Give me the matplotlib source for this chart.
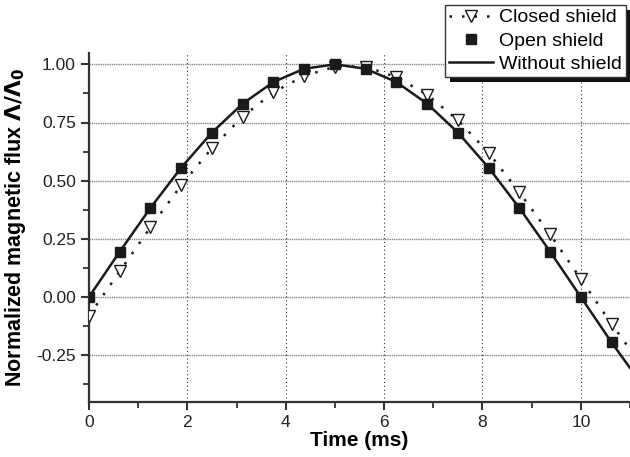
import matplotlib
matplotlib.use("Agg")
import matplotlib.pyplot as plt
from matplotlib.patches import Rectangle
from matplotlib.transforms import IdentityTransform

plt.rcParams["font.family"] = ["Liberation Sans", "DejaVu Sans"]

# sample times (ms)
t = [0, 0.625, 1.25, 1.875, 2.5, 3.125, 3.75, 4.375, 5.0, 5.625,
     6.25, 6.875, 7.5, 8.125, 8.75, 9.375, 10.0, 10.625]
closed = [-0.08, 0.11, 0.30, 0.48, 0.64, 0.775, 0.88, 0.95, 0.99, 0.99,
          0.945, 0.87, 0.76, 0.62, 0.45, 0.27, 0.077, -0.116]
opened = [0.0, 0.195, 0.383, 0.556, 0.707, 0.831, 0.924, 0.981, 1.0, 0.981,
          0.924, 0.831, 0.707, 0.556, 0.383, 0.195, 0.0, -0.195]
# line ends
t_line = t + [11.0]
closed_line = closed + [-0.225]
without = opened + [-0.305]

fig = plt.figure(figsize=(6.3, 4.57), dpi=100)
ax = fig.add_axes([89 / 630, 1 - 401.7 / 457, (630 - 89) / 630, (401.7 - 52.7) / 457])

ax.plot(t_line, without, "-", color="#1a1a1a", lw=1.8, zorder=3)
ax.plot(t_line, closed_line, color="#1a1a1a", lw=1.8, ls=(0, (1, 4)), zorder=3)
ax.plot(t, closed, "v", ls="none", ms=9, mfc="white", mec="#1a1a1a", mew=1.0, zorder=4)
ax.plot(t, opened, "s", ls="none", ms=7, mfc="#1a1a1a", mec="#1a1a1a", zorder=5)

ax.set_xlim(0, 11)
ax.set_ylim(-0.45, 1.05)
ax.set_xticks([0, 2, 4, 6, 8, 10])
ax.set_xticks([1, 3, 5, 7, 9, 11], minor=True)
ax.set_yticks([-0.25, 0.0, 0.25, 0.5, 0.75, 1.0])
ax.set_yticks([-0.375, -0.125, 0.125, 0.375, 0.625, 0.875], minor=True)
ax.set_yticklabels(["-0.25", "0.00", "0.25", "0.50", "0.75", "1.00"])

for y in [-0.25, 0.0, 0.25, 0.5, 0.75, 1.0]:
    ax.axhline(y, color="#888888", lw=1.0, ls=(0, (1, 0.6)), zorder=1)
for x in [2, 4, 6, 8, 10]:
    ax.axvline(x, color="#333333", lw=0.8, ls=(0, (1, 2.5)), zorder=1)

for s in ["top", "right"]:
    ax.spines[s].set_visible(False)
for s in ["left", "bottom"]:
    ax.spines[s].set_linewidth(1.6)
    ax.spines[s].set_color("#333333")
ax.tick_params(which="major", direction="out", length=6, width=1.5,
               labelsize=12.5, colors="#333333", labelcolor="#222222")
ax.tick_params(which="minor", direction="out", length=4, width=1.3, colors="#333333")

ax.set_xlabel("Time (ms)", fontsize=15, fontweight="bold", labelpad=1)
ax.set_ylabel(r"Normalized magnetic flux $\mathbf{\Lambda/\Lambda_0}$",
              fontsize=15.5, fontweight="bold", labelpad=6)

h1, = ax.plot([], [], color="#1a1a1a", lw=1.8, ls=(0, (1, 4)), marker="v",
              ms=9, mfc="white", mec="#1a1a1a", mew=1.0)
h2, = ax.plot([], [], "s", ls="none", ms=7, color="#1a1a1a")
h3, = ax.plot([], [], "-", color="#1a1a1a", lw=1.8)
leg = fig.legend([h1, h2, h3], ["Closed shield", "Open shield", "Without shield"],
                 loc="upper right", bbox_to_anchor=(626 / 630, 1 - 5 / 457), fontsize=14,
                 frameon=True, shadow=False, fancybox=False, borderpad=0.2,
                 labelspacing=0.28, handlelength=2.3, handletextpad=0.3,
                 borderaxespad=0)
leg.get_frame().set_edgecolor("#333333")
leg.get_frame().set_linewidth(1.0)
leg.get_frame().set_alpha(1)

# solid black drop shadow behind the legend box
fig.canvas.draw()
bb = leg.get_window_extent()
fig.add_artist(Rectangle((bb.x0 + 5, bb.y0 - 5), bb.width, bb.height,
                         transform=IdentityTransform(), facecolor="#111111",
                         edgecolor="none", zorder=leg.get_zorder() - 0.1))

fig.savefig("out.png", dpi=100)
